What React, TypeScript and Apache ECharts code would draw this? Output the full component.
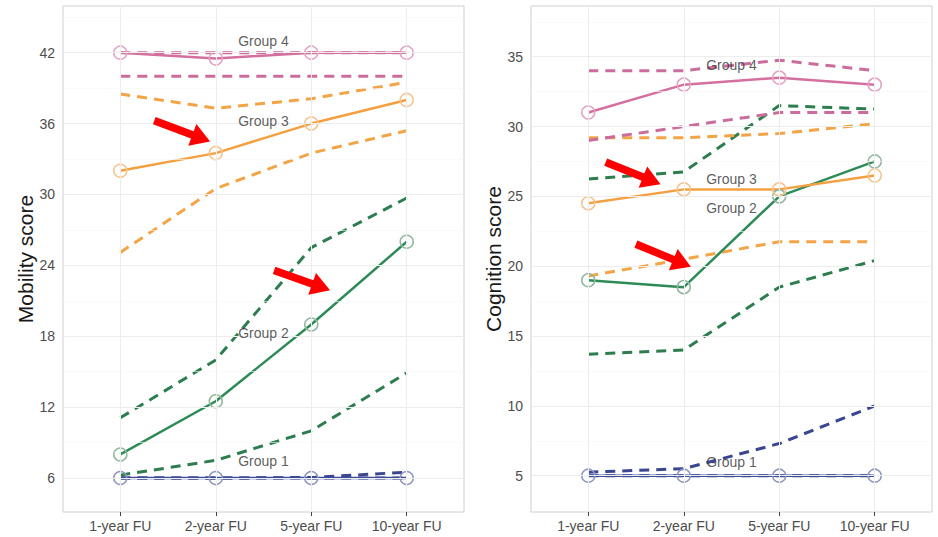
import React, { useEffect, useRef } from 'react';
import * as echarts from 'echarts';

const categories = ['1-year FU', '2-year FU', '5-year FU', '10-year FU'];
const groupNames = ['Group 1', 'Group 2', 'Group 3', 'Group 4'];

// Mobility score panel
const mobG1 = [6, 6, 6, 6];
const mobG1Upper = [6, 6, 6.05, 6.5];
const mobG1Lower = [6, 6, 6, 6];
const mobG2 = [8, 12.5, 19, 26];
const mobG2Upper = [11.1, 16, 25.5, 29.7];
const mobG2Lower = [6.25, 7.5, 10, 14.9];
const mobG3 = [32, 33.5, 36, 38];
const mobG3Upper = [38.5, 37.3, 38.1, 39.5];
const mobG3Lower = [25.1, 30.5, 33.5, 35.4];
const mobG4 = [42, 41.5, 42, 42];
const mobG4Upper = [42, 42, 42, 42];
const mobG4Lower = [40, 40, 40, 40];
const mobLabelY = [7.45, 18.3, 36.25, 42.95];
const mobTicks = [6, 12, 18, 24, 30, 36, 42];
const mobMinor = [9, 15, 21, 27, 33, 39, 45];
const mobRange = [3.13, 45.95];

// Cognition score panel
const cogG1 = [5, 5, 5, 5];
const cogG1Upper = [5.25, 5.5, 7.3, 10];
const cogG1Lower = [5, 5, 5, 5];
const cogG2 = [19, 18.5, 25, 27.5];
const cogG2Upper = [26.25, 26.75, 31.5, 31.25];
const cogG2Lower = [13.7, 14, 18.5, 20.4];
const cogG3 = [24.5, 25.5, 25.5, 26.5];
const cogG3Upper = [29.2, 29.2, 29.5, 30.2];
const cogG3Lower = [19.3, 20.5, 21.75, 21.75];
const cogG4 = [31, 33, 33.5, 33];
const cogG4Upper = [34, 34, 34.75, 34];
const cogG4Lower = [29, 30, 31, 31];
const cogLabelY = [5.95, 24.2, 26.25, 34.4];
const cogTicks = [5, 10, 15, 20, 25, 30, 35];
const cogMinor = [7.5, 12.5, 17.5, 22.5, 27.5, 32.5, 37.5];
const cogRange = [2.4, 38.63];

// Red arrow annotations (category index, value)
const mobArrows = [
  { from: [0.356, 36.25], to: [0.941, 34.48] },
  { from: [1.611, 23.58], to: [2.197, 21.89] },
];
const cogArrows = [
  { from: [0.182, 27.45], to: [0.757, 25.87] },
  { from: [0.499, 21.58], to: [1.074, 19.96] },
];

const lineColors = ['#3D4C99', '#2E8B57', '#F4A040', '#D4709F'];
const dashColors = ['#3A4690', '#2E7D4F', '#F2A447', '#CC6C9C'];
const circleColors = ['#8F96BF', '#93B79E', '#F5C48E', '#E3A3C4'];

const FONT = 'Liberation Sans, Arial, Helvetica, sans-serif';

function toPts(arr: number[]) {
  return arr.map((v, i) => [i, v]);
}

function buildPanel(
  idx: number,
  groups: number[][][],
  labelY: number[],
  ticks: number[],
  minor: number[],
) {
  const series: any[] = [];
  // grid lines
  series.push({
    type: 'line',
    xAxisIndex: idx,
    yAxisIndex: idx,
    data: [[0, ticks[0]]],
    symbol: 'none',
    lineStyle: { opacity: 0 },
    silent: true,
    z: 1,
    markLine: {
      silent: true,
      symbol: ['none', 'none'],
      label: { show: false },
      animation: false,
      data: [
        ...minor.map((v) => ({ yAxis: v, lineStyle: { color: '#f6f6f6', width: 0.6, type: 'solid' } })),
        ...ticks.map((v) => ({ yAxis: v, lineStyle: { color: '#ededed', width: 1, type: 'solid' } })),
        ...categories.map((_, i) => ({ xAxis: i, lineStyle: { color: '#ededed', width: 1, type: 'solid' } })),
      ],
    },
  });
  groups.forEach((g, gi) => {
    const [, upper, lower] = g;
    [upper, lower].forEach((b) => {
      series.push({
        type: 'line',
        xAxisIndex: idx,
        yAxisIndex: idx,
        data: toPts(b),
        symbol: 'none',
        lineStyle: { color: dashColors[gi], width: 3, type: [10, 7] },
        z: 3,
      });
    });
  });
  groups.forEach((g, gi) => {
    const [mean] = g;
    series.push({
      type: 'line',
      name: groupNames[gi],
      xAxisIndex: idx,
      yAxisIndex: idx,
      data: toPts(mean),
      symbol: 'circle',
      symbolSize: 13,
      itemStyle: { color: 'rgba(255,255,255,0)', borderColor: circleColors[gi], borderWidth: 1.5 },
      lineStyle: { color: lineColors[gi], width: 2.5 },
      z: 4,
    });
  });
  series.push({
    type: 'scatter',
    xAxisIndex: idx,
    yAxisIndex: idx,
    data: groupNames.map((n, gi) => [1.5, labelY[gi], n]),
    symbolSize: 2,
    itemStyle: { color: 'rgba(255,255,255,0)' },
    label: {
      show: true,
      position: 'inside',
      formatter: (p: any) => p.data[2],
      fontFamily: FONT,
      fontSize: 14,
      color: '#333333',
    },
    z: 6,
  });
  return series;
}

function arrowPolygon(tail: number[], tip: number[]) {
  const dx = tip[0] - tail[0];
  const dy = tip[1] - tail[1];
  const len = Math.sqrt(dx * dx + dy * dy);
  const ux = dx / len;
  const uy = dy / len;
  const px = -uy;
  const py = ux;
  const headLen = 19;
  const headHalf = 11.5;
  const shaftHalf = 3.8;
  const bx = tip[0] - ux * headLen;
  const by = tip[1] - uy * headLen;
  return [
    [tail[0] + px * shaftHalf, tail[1] + py * shaftHalf],
    [bx + px * shaftHalf, by + py * shaftHalf],
    [bx + px * headHalf, by + py * headHalf],
    [tip[0], tip[1]],
    [bx - px * headHalf, by - py * headHalf],
    [bx - px * shaftHalf, by - py * shaftHalf],
    [tail[0] - px * shaftHalf, tail[1] - py * shaftHalf],
  ];
}

export default function App() {
  const ref = useRef<HTMLDivElement>(null);
  useEffect(() => {
    if (!ref.current) return;
    const chart = echarts.init(ref.current, null, { renderer: 'svg' });
    const grids = [
      { left: 63, top: 6, width: 401, height: 506 },
      { left: 531, top: 6, width: 401, height: 506 },
    ].map((g) => ({
      ...g,
      show: true,
      borderColor: '#cfcfcf',
      borderWidth: 1,
      backgroundColor: '#ffffff',
      containLabel: false,
    }));
    const xAxes = [0, 1].map((i) => ({
      type: 'value',
      gridIndex: i,
      min: -0.6,
      max: 3.6,
      axisLine: { show: false },
      splitLine: { show: false },
      axisTick: { show: true, length: 4, customValues: [0, 1, 2, 3], lineStyle: { color: '#444444' } },
      axisLabel: {
        customValues: [0, 1, 2, 3],
        formatter: (v: number) => categories[Math.round(v)] ?? '',
        fontFamily: FONT,
        fontSize: 14,
        color: '#4d4d4d',
        margin: 7,
      },
    }));
    const yDefs = [
      { name: 'Mobility score', range: mobRange, ticks: mobTicks },
      { name: 'Cognition score', range: cogRange, ticks: cogTicks },
    ];
    const yAxes = yDefs.map((d, i) => ({
      type: 'value',
      gridIndex: i,
      min: d.range[0],
      max: d.range[1],
      name: d.name,
      nameLocation: 'middle',
      nameGap: 27,
      nameTextStyle: { fontFamily: FONT, fontSize: 21, color: '#1a1a1a' },
      axisLine: { show: false },
      splitLine: { show: false },
      axisTick: { show: true, length: 4, customValues: d.ticks, lineStyle: { color: '#444444' } },
      axisLabel: {
        customValues: d.ticks,
        fontFamily: FONT,
        fontSize: 14,
        color: '#4d4d4d',
        margin: 8,
      },
    }));
    const series = [
      ...buildPanel(
        0,
        [
          [mobG1, mobG1Upper, mobG1Lower],
          [mobG2, mobG2Upper, mobG2Lower],
          [mobG3, mobG3Upper, mobG3Lower],
          [mobG4, mobG4Upper, mobG4Lower],
        ],
        mobLabelY,
        mobTicks,
        mobMinor,
      ),
      ...buildPanel(
        1,
        [
          [cogG1, cogG1Upper, cogG1Lower],
          [cogG2, cogG2Upper, cogG2Lower],
          [cogG3, cogG3Upper, cogG3Lower],
          [cogG4, cogG4Upper, cogG4Lower],
        ],
        cogLabelY,
        cogTicks,
        cogMinor,
      ),
    ];
    chart.setOption({
      animation: false,
      backgroundColor: '#ffffff',
      grid: grids,
      xAxis: xAxes,
      yAxis: yAxes,
      series,
    });
    const graphic: any[] = [];
    [mobArrows, cogArrows].forEach((arrows, gi) => {
      arrows.forEach((a) => {
        const tail = chart.convertToPixel({ gridIndex: gi } as any, a.from) as number[];
        const tip = chart.convertToPixel({ gridIndex: gi } as any, a.to) as number[];
        graphic.push({
          type: 'polygon',
          shape: { points: arrowPolygon(tail, tip) },
          style: { fill: '#FF0000' },
          z: 20,
        });
      });
    });
    chart.setOption({ graphic });
    return () => chart.dispose();
  }, []);
  return (
    <div
      ref={ref}
      style={{ position: 'fixed', left: 0, top: 0, width: 938, height: 537, background: '#fff' }}
    />
  );
}
